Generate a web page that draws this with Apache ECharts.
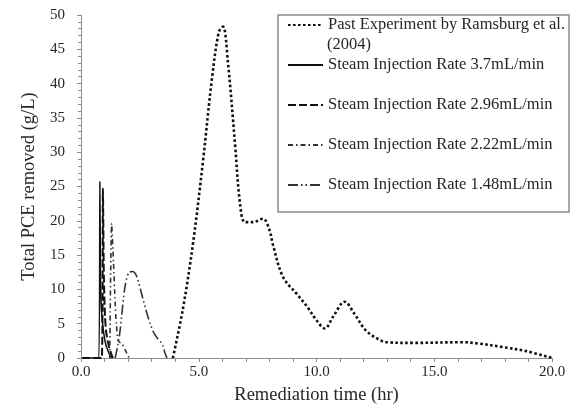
<!DOCTYPE html>
<html>
<head>
<meta charset="utf-8">
<script src="https://cdn.jsdelivr.net/npm/echarts@6/dist/echarts.min.js"></script>
<style>
  html, body { margin: 0; padding: 0; background: #fff; }
  #chart { width: 573px; height: 410px; }
</style>
</head>
<body>
<div id="chart"></div>
<script>
// Past experiment by Ramsburg et al. (2004)
const ramsburgTime = [3.9, 4.33, 4.76, 5.18, 5.56, 5.85, 6.03, 6.24, 6.54, 6.75, 6.96, 7.3, 7.73, 8.0, 8.15, 8.58, 9.17, 9.6, 10.0, 10.36, 10.7, 11.2, 11.6, 12.1, 12.7, 13.0, 14.1, 16.2, 16.9, 17.9, 18.9, 20.0];
const ramsburgPce = [0, 7.2, 16.8, 28.7, 40.7, 47.5, 48.3, 43.1, 31.2, 22.6, 19.8, 19.8, 20.3, 18.7, 16.5, 11.8, 9.3, 7.5, 5.5, 4.3, 6.0, 8.2, 6.5, 4.0, 2.6, 2.3, 2.2, 2.3, 2.1, 1.6, 1.0, 0];

// steam injection runs
const rate370Time = [0.05, 0.76, 0.8, 0.83, 0.87, 0.95, 1.05, 1.2, 1.3];
const rate370Pce = [0, 0, 25.7, 12, 7, 4, 2, 0.6, 0];
const rate296Time = [0.05, 0.88, 0.93, 0.97, 1.02, 1.08, 1.2, 1.35];
const rate296Pce = [0, 0, 24.7, 12, 6, 3.5, 1.5, 0];
const rate222Time = [1.22, 1.3, 1.38, 1.45, 1.5, 1.58, 1.75, 1.9, 2.05];
const rate222Pce = [0, 19.6, 14, 8, 5, 2.5, 2, 1, 0];
const rate148Time = [1.45, 1.57, 1.66, 1.78, 1.9, 2.05, 2.2, 2.35, 2.5, 2.8, 3.06, 3.3, 3.44, 3.57, 3.65];
const rate148Pce = [0, 2, 4, 7.9, 11, 12.5, 12.6, 12, 10.3, 6.5, 3.9, 2.6, 2.1, 0.7, 0];

const seriesNames = [
  "Past Experiment by Ramsburg et al. (2004)",
  "Steam Injection Rate 3.7mL/min",
  "Steam Injection Rate 2.96mL/min",
  "Steam Injection Rate 2.22mL/min",
  "Steam Injection Rate 1.48mL/min",
];
const xTicks = [0, 5, 10, 15, 20];
const yTicks = [0, 5, 10, 15, 20, 25, 30, 35, 40, 45, 50];

const font = "Liberation Serif";
const textColor = "#262626";
const axisColor = "#8c8c8c";

const pairs = (xs, ys) => xs.map((x, i) => [x, ys[i]]);

const makeLine = (name, data, width, type, smooth, color) => ({
  name,
  type: "line",
  data,
  symbol: "none",
  smooth,
  lineStyle: { color: color || "#111", width, type },
  itemStyle: { color: color || "#111", opacity: 0 },
  z: 3,
});

// the first legend entry wraps after "al." in the original
const legendText = (name) => name === seriesNames[0] ? "Past Experiment by Ramsburg et al." : name;

const chart = echarts.init(document.getElementById("chart"));
chart.setOption({
  animation: false,
  backgroundColor: "#fff",
  grid: { left: 81, right: 21, top: 15, bottom: 47 },
  legend: {
    orient: "vertical",
    left: 287,
    top: 15,
    padding: 0,
    itemGap: 20,
    itemWidth: 35,
    itemHeight: 14,
    selectedMode: false,
    itemStyle: { opacity: 0 },
    formatter: legendText,
    textStyle: { fontFamily: font, fontSize: 16.5, color: textColor, lineHeight: 20 },
  },
  graphic: [
    {
      type: "rect",
      shape: { x: 278, y: 15, width: 291, height: 197 },
      style: { fill: "none", stroke: axisColor, lineWidth: 1.5 },
      z: 1,
    },
    {
      type: "text",
      x: 327,
      y: 45,
      style: {
        text: "(2004)", fontFamily: font, fontSize: 16.5, fill: textColor,
        verticalAlign: "middle", align: "left",
      },
      z: 2,
    },
  ],
  xAxis: {
    type: "value",
    min: xTicks[0],
    max: xTicks[xTicks.length - 1],
    interval: xTicks[1] - xTicks[0],
    name: "Remediation time (hr)",
    nameLocation: "middle",
    nameGap: 28,
    nameTextStyle: { fontFamily: font, fontSize: 18.5, color: textColor },
    axisLine: { lineStyle: { color: axisColor, width: 1 } },
    axisTick: { length: 4, lineStyle: { color: axisColor } },
    minorTick: { show: true, splitNumber: 5, length: 4, lineStyle: { color: axisColor } },
    axisLabel: {
      fontFamily: font, fontSize: 15, color: textColor, margin: 7,
      formatter: (v) => v.toFixed(1),
    },
    splitLine: { show: false },
  },
  yAxis: {
    type: "value",
    min: yTicks[0],
    max: yTicks[yTicks.length - 1],
    interval: yTicks[1] - yTicks[0],
    name: "Total PCE removed (g/L)",
    nameLocation: "middle",
    nameGap: 39,
    nameTextStyle: { fontFamily: font, fontSize: 18.5, color: textColor },
    axisLine: { show: true, lineStyle: { color: axisColor, width: 1 } },
    axisTick: { show: true, length: 4, lineStyle: { color: axisColor } },
    minorTick: { show: true, splitNumber: 5, length: 3, lineStyle: { color: axisColor } },
    axisLabel: { fontFamily: font, fontSize: 15, color: textColor, margin: 16 },
    splitLine: { show: false },
  },
  series: [
    makeLine(seriesNames[0], pairs(ramsburgTime, ramsburgPce), 2.6, [2.6, 2.4], 0.35),
    makeLine(seriesNames[1], pairs(rate370Time, rate370Pce), 1.5, "solid", 0.2),
    makeLine(seriesNames[2], pairs(rate296Time, rate296Pce), 2, [8, 3], 0.2),
    makeLine(seriesNames[3], pairs(rate222Time, rate222Pce), 1.6, [5, 3, 1.5, 3], 0.2, "#333"),
    makeLine(seriesNames[4], pairs(rate148Time, rate148Pce), 1.6, [10, 3, 1.5, 3, 1.5, 3], 0.35, "#333"),
  ],
});
</script>
</body>
</html>
